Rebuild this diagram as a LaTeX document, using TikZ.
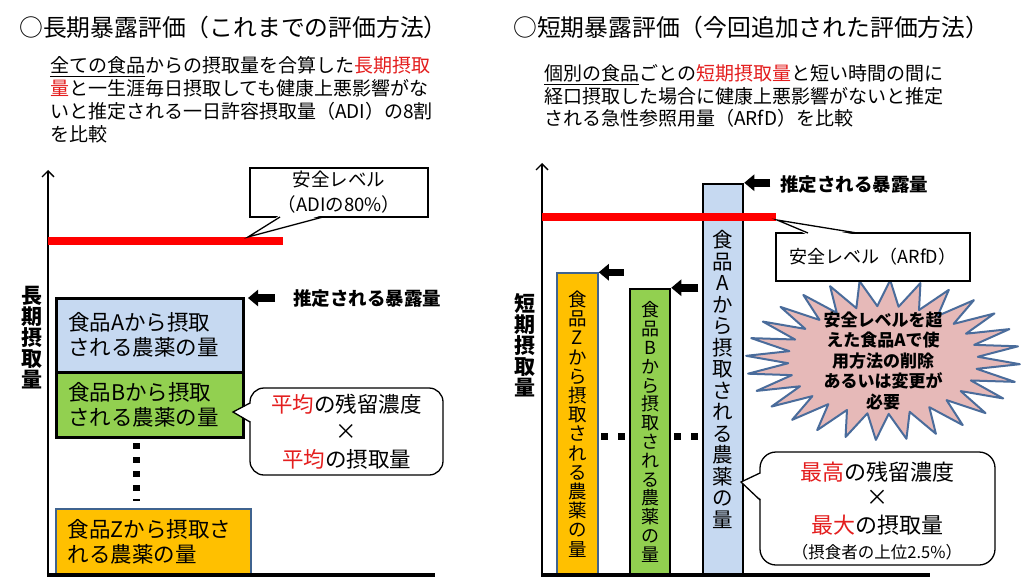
\documentclass[tikz,border=0pt]{standalone}
\usepackage{fontspec}
\setmainfont{Noto Sans CJK JP}
\usetikzlibrary{arrows.meta,calc}
\definecolor{boxblue}{HTML}{C6D9F1}
\definecolor{boxgreen}{HTML}{92D050}
\definecolor{boxorange}{HTML}{FFC000}
\definecolor{zborder}{HTML}{3F638F}
\definecolor{burstfill}{HTML}{E6B9B8}
\definecolor{burstline}{HTML}{4A6C9B}
\definecolor{txtred}{HTML}{E41E1E}
\definecolor{linered}{HTML}{FF0000}
\newcommand\myfs[2]{\fontsize{#1}{#2}\selectfont}
\tikzset{
  ttl/.style={inner sep=0pt, anchor=base west, font=\myfs{23.8}{28}},
  para/.style={inner sep=0pt, anchor=base west, font=\myfs{19}{23}},
  yaxisline/.style={line width=2.2pt, -{Straight Barb[length=6pt,width=12pt,line width=1.4pt]}},
  xaxisline/.style={line width=4pt},
  safeline/.style={line width=8pt, draw=linered},
  stackbox/.style={draw, line width=2.5pt, inner xsep=12pt, inner ysep=0pt, align=left, anchor=north west, font=\myfs{21.5}{25}},
  barbox/.style={draw, line width=2.5pt, inner sep=0pt, align=center},
  blockarrow/.style={line width=7.5pt, -{Triangle[length=10pt,width=16pt]}},
  vdots/.style={line width=7pt, dash pattern=on 6pt off 8pt},
  hdots/.style={line width=7pt, dash pattern=on 7pt off 10pt},
  callbox/.style={draw, line width=1.3pt, fill=white, inner sep=0pt, align=center},
  callline/.style={line width=1.3pt, line join=miter},
  boldlbl/.style={inner sep=0pt, anchor=base west, font=\myfs{18.5}{22}\bfseries},
  axislbl/.style={inner sep=0pt, align=center, font=\myfs{21}{21}\bfseries},
}
\begin{document}
\begin{tikzpicture}[x=1pt,y=-1pt]
\useasboundingbox[fill=white] (0,0) rectangle (1024,580);

% ---------- titles ----------
\node[ttl] (titleL) at (19,37) {○長期暴露評価（これまでの評価方法）};
\node[ttl] (titleR) at (513,37) {○短期暴露評価（今回追加された評価方法）};

% ---------- paragraphs ----------
\node[para] (pL1) at (50,73) {\underline{全ての食品}からの摂取量を合算した{\color{txtred}長期摂取}};
\node[para] (pL2) at (50,96) {{\color{txtred}量}と一生涯毎日摂取しても健康上悪影響がな};
\node[para] (pL3) at (50,119) {いと推定される一日許容摂取量（ADI）の8割};
\node[para] (pL4) at (50,142) {を比較};
\node[para] (pR1) at (544,81) {\underline{個別の食品}ごとの{\color{txtred}短期摂取量}と短い時間の間に};
\node[para] (pR2) at (544,104) {経口摂取した場合に健康上悪影響がないと推定};
\node[para] (pR3) at (544,126) {される急性参照用量（ARfD）を比較};

% ---------- left chart ----------
\node[stackbox, fill=boxblue, minimum width=187pt, minimum height=74pt, text width=163pt] (boxA) at (55,297) {食品Aから摂取\\される農薬の量};
\node[stackbox, fill=boxgreen, minimum width=187pt, minimum height=65pt, text width=163pt] (boxB) at (55,371) {食品Bから摂取\\される農薬の量};
\node[stackbox, fill=boxorange, draw=zborder, line width=1.5pt, minimum width=195pt, minimum height=67pt, text width=171pt] (boxZ) at (55,508) {食品Zから摂取さ\\れる農薬の量};
\coordinate (dotsLtop) at (136,443);
\coordinate (dotsLbot) at (136,501);
\draw[vdots] (dotsLtop) -- (dotsLbot);

\coordinate (oL) at (48,575);
\coordinate (topL) at (48,170);
\coordinate (xendL) at (435,575);
\draw[yaxisline] (oL) -- (topL);
\draw[xaxisline] ($(oL)+(-1.1,0)$) -- (xendL);
\coordinate (redLa) at (48,241);
\coordinate (redLb) at (283,241);
\draw[safeline] (redLa) -- (redLb);

\node[axislbl] (ylblL) at (32,337.5) {長\\期\\摂\\取\\量};

% safe level callout (left)
\node[callbox, minimum width=178pt, minimum height=49pt, font=\myfs{18.5}{25}] (safeL) at (339,192.5) {安全レベル\\（ADIの80\%）};
\coordinate (safeLtip) at (248,237);
\coordinate (safeLb1) at (280,217);
\coordinate (safeLb2) at (323,217);
\fill[white] ($(safeLb1)+(0,-2)$) -- (safeLtip) -- ($(safeLb2)+(0,-2)$) -- cycle;
\draw[callline] (safeLb1) -- (safeLtip) -- (safeLb2);

% estimated exposure arrow (left)
\coordinate (estLtail) at (275,298);
\coordinate (estLtip) at (248,298);
\draw[blockarrow] (estLtail) -- (estLtip);
\node[boldlbl] (estLtxt) at (293,305) {推定される暴露量};

% average callout
\node[callbox, rounded corners=14pt, minimum width=193pt, minimum height=87pt, font=\myfs{21.5}{27.5}] (avgL) at (346.5,431.5) {{\color{txtred}平均}の残留濃度\\×\\{\color{txtred}平均}の摂取量};
\coordinate (avgTip) at (233,412);
\coordinate (avgB1) at (250,403);
\coordinate (avgB2) at (250,422);
\fill[white] ($(avgB1)+(2,0)$) -- (avgTip) -- ($(avgB2)+(2,0)$) -- cycle;
\draw[callline] (avgB1) -- (avgTip) -- (avgB2);

% ---------- right chart ----------
\node[barbox, fill=boxorange, draw=zborder, line width=1.5pt, minimum width=41pt, minimum height=302pt, font=\myfs{18.5}{19.2}] (barZ) at (577.5,424) {食\\品\\Z\\か\\ら\\摂\\取\\さ\\れ\\る\\農\\薬\\の\\量};
\node[barbox, fill=boxgreen, minimum width=40pt, minimum height=286pt, font=\myfs{18}{18.8}] (barB) at (650,432) {食\\品\\B\\か\\ら\\摂\\取\\さ\\れ\\る\\農\\薬\\の\\量};
\node[barbox, fill=boxblue, minimum width=40pt, minimum height=391pt, font=\myfs{20.5}{21.5}] (barA) at (723,379.5) {食\\品\\A\\か\\ら\\摂\\取\\さ\\れ\\る\\農\\薬\\の\\量};

\coordinate (dotsY) at (0,436);
\draw[hdots] ($(barZ.east |- dotsY)+(2.5,0)$) -- (barB.west |- dotsY);
\draw[hdots] ($(barB.east |- dotsY)+(3,0)$) -- (barA.west |- dotsY);

\coordinate (oR) at (542,575);
\coordinate (topR) at (542,163);
\coordinate (xendR) at (930,575);
\draw[yaxisline] (oR) -- (topR);
\draw[xaxisline] ($(oR)+(-1.1,0)$) -- (xendR);
\coordinate (redRa) at (542,217);
\coordinate (redRb) at (776,217);
\draw[safeline] (redRa) -- (redRb);

\node[axislbl] (ylblR) at (525,345) {短\\期\\摂\\取\\量};

% estimated exposure arrows (right)
\draw[blockarrow] ($(barZ.north east)+(25,0)$) -- (barZ.north east);
\draw[blockarrow] ($(barB.north east)+(27,0)$) -- (barB.north east);
\draw[blockarrow] ($(barA.north east)+(26,0)$) -- (barA.north east);
\node[boldlbl] (estRtxt) at (780,191.5) {推定される暴露量};

% starburst
\begin{scope}[shift={(883,360)}]
\draw[line width=2pt, draw=burstline, fill=burstfill, line join=round]
  (3:137 and 80) \foreach \i in {1,...,55} { -- ({\i*6.428571+3}:{137-42*mod(\i,2)} and {80-26*mod(\i,2)}) } -- cycle;
\end{scope}
\node[inner sep=0pt, align=center, font=\myfs{17}{20.5}\bfseries] (burstTxt) at (883,361) {安全レベルを超\\えた食品Aで使\\用方法の削除\\あるいは変更が\\必要};

% safe level callout (right)
\node[callbox, minimum width=194pt, minimum height=48pt, font=\myfs{18}{22}] (safeR) at (873,257) {安全レベル（ARfD）};
\coordinate (safeRtip) at (777,220);
\coordinate (safeRb1) at (808,233);
\coordinate (safeRb2) at (857,233);
\fill[white] ($(safeRb1)+(0,2)$) -- (safeRtip) -- ($(safeRb2)+(0,2)$) -- cycle;
\draw[callline] (safeRb1) -- (safeRtip) -- (safeRb2);

% max callout
\node[callbox, rounded corners=16pt, minimum width=235pt, minimum height=113pt] (maxR) at (877.5,508.5) {};
\node[inner sep=0pt, font=\myfs{22}{26}] (maxR1) at (877,472) {{\color{txtred}最高}の残留濃度};
\node[inner sep=0pt, font=\myfs{22}{26}] (maxR2) at (877,498) {×};
\node[inner sep=0pt, font=\myfs{22}{26}] (maxR3) at (877,525) {{\color{txtred}最大}の摂取量};
\node[inner sep=0pt, font=\myfs{16.5}{20}] (maxR4) at (877,552) {（摂食者の上位2.5\%）};
\coordinate (maxTip) at (741,482);
\coordinate (maxB1) at (760,473);
\coordinate (maxB2) at (760,500);
\fill[white] ($(maxB1)+(2,0)$) -- (maxTip) -- ($(maxB2)+(2,0)$) -- cycle;
\draw[callline] (maxB1) -- (maxTip) -- (maxB2);
\end{tikzpicture}
\end{document}
